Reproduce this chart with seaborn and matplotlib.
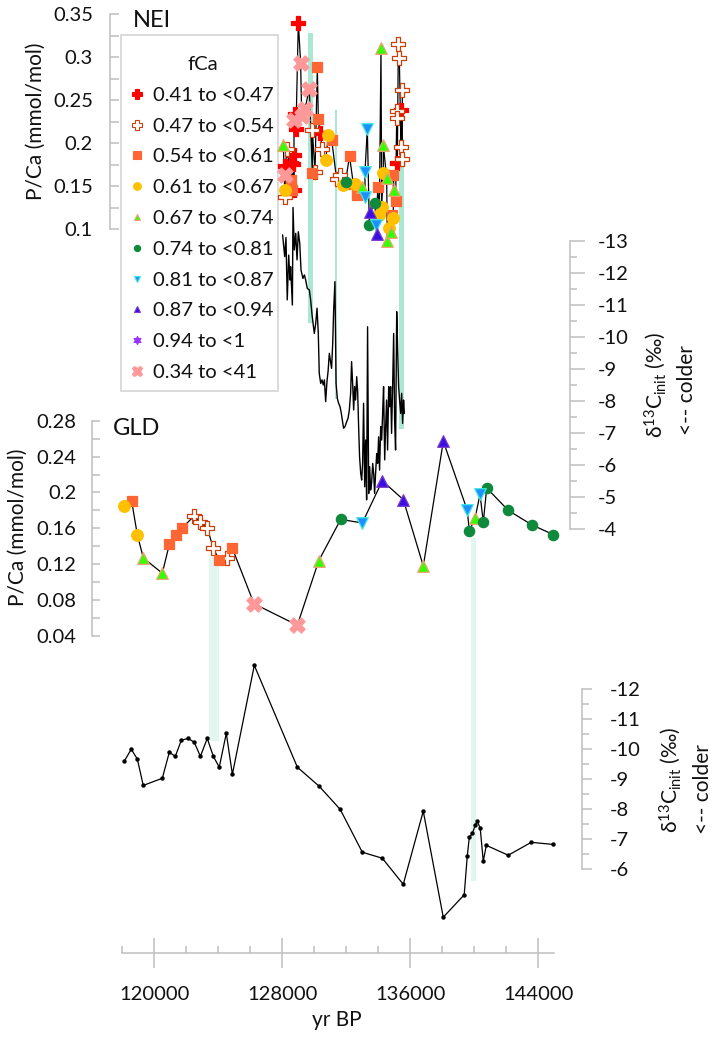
import numpy as np
import pandas as pd
import matplotlib
matplotlib.use("Agg")
import matplotlib.pyplot as plt
import seaborn as sns
from matplotlib.lines import Line2D
from matplotlib.patches import Rectangle
from matplotlib.ticker import FuncFormatter

# fCa classes (legend order)
FCA_LABELS = ["0.41 to <0.47", "0.47 to <0.54", "0.54 to <0.61", "0.61 to <0.67",
              "0.67 to <0.74", "0.74 to <0.81", "0.81 to <0.87", "0.87 to <0.94",
              "0.94 to <1", "0.34 to <41"]

# NEI P/Ca record (age yr BP, P/Ca mmol/mol, fCa class index)
NEI_AGE = [128064, 128168, 128168, 128168, 128168, 128314, 128523, 128523, 128585, 128689,
           128731, 128731, 128731, 128793, 128856, 129002, 129147, 129210, 129418, 129689,
           129877, 129877, 130043, 130189, 130252, 130356, 130502, 130710, 130877, 131085,
           131397, 131606, 131772, 131950, 132200, 132439, 132543, 132647, 132960, 133168,
           133168, 133314, 133439, 133481, 133793, 133856, 133898, 133960, 134064, 134168,
           134210, 134314, 134314, 134523, 134564, 134668, 134773, 134835, 134939, 134939,
           134981, 135085, 135147, 135147, 135189, 135251, 135314, 135418, 135418, 135501,
           135501]
NEI_PCA = [0.198, 0.173, 0.163, 0.146, 0.137, 0.193, 0.177, 0.157, 0.146, 0.176,
           0.186, 0.227, 0.146, 0.234, 0.217, 0.340, 0.293, 0.231, 0.240, 0.263,
           0.215, 0.165, 0.166, 0.288, 0.228, 0.212, 0.193, 0.180, 0.209, 0.204,
           0.158, 0.163, 0.151, 0.155, 0.185, 0.153, 0.153, 0.140, 0.149, 0.167,
           0.138, 0.217, 0.105, 0.120, 0.130, 0.105, 0.095, 0.149, 0.117, 0.311,
           0.126, 0.198, 0.165, 0.159, 0.086, 0.101, 0.097, 0.117, 0.163, 0.113,
           0.146, 0.133, 0.237, 0.229, 0.177, 0.315, 0.299, 0.239, 0.195, 0.262,
           0.182]
NEI_FCA = [4, 0, 9, 3, 1, 1, 0, 2, 2, 0,
           0, 9, 0, 0, 0, 0, 9, 9, 9, 9,
           1, 2, 1, 2, 2, 0, 1, 3, 3, 2,
           1, 1, 3, 5, 2, 2, 3, 2, 4, 6,
           6, 6, 5, 7, 5, 6, 7, 2, 3, 4,
           3, 4, 3, 4, 4, 3, 4, 2, 2, 3,
           4, 2, 1, 1, 0, 1, 1, 0, 1, 1,
           1]

# NEI d13C_init record
NEI_D13C_AGE = [128020, 128150, 128230, 128310, 128400, 128480, 128520, 128630, 128670, 128750,
                128840, 128920, 129000, 129090, 129170, 129290, 129380, 129460, 129560, 129690,
                129770, 129860, 130000, 130090, 130170, 130250, 130310, 130400, 130480, 130560,
                130630, 130710, 130790, 130860, 130940, 131000, 131080, 131150, 131210, 131290,
                131360, 131440, 131520, 131610, 131690, 131750, 131830, 131920, 132020, 132110,
                132190, 132270, 132330, 132400, 132460, 132520, 132580, 132650, 132710, 132770,
                132830, 132900, 132960, 133020, 133080, 133150, 133210, 133270, 133330, 133400,
                133460, 133520, 133580, 133650, 133710, 133770, 133830, 133900, 133960, 134020,
                134080, 134150, 134210, 134270, 134330, 134400, 134460, 134520, 134580, 134650,
                134710, 134770, 134830, 134900, 134960, 135020, 135080, 135150, 135210, 135270,
                135330, 135400, 135460, 135520, 135580, 135630]
NEI_D13C = [-13.19, -12.51, -13.11, -11.16, -12.56, -11.78, -12.20, -11.00, -14.05, -12.72,
            -13.24, -12.41, -13.29, -12.93, -12.09, -11.83, -11.94, -11.78, -11.52, -11.47,
            -11.16, -10.69, -10.11, -10.43, -10.90, -10.11, -8.86, -8.55, -8.66, -8.50,
            -8.66, -7.98, -8.60, -8.92, -9.49, -9.28, -9.02, -9.80, -10.84, -11.73,
            -8.55, -8.08, -7.93, -7.82, -7.61, -7.41, -7.15, -7.20, -7.35, -7.46,
            -7.72, -8.24, -9.23, -8.50, -7.72, -8.45, -8.03, -8.76, -8.29, -7.20,
            -6.26, -5.74, -5.53, -6.05, -7.93, -5.32, -6.78, -4.91, -10.32, -5.11,
            -5.95, -5.22, -5.43, -6.05, -5.74, -5.11, -5.74, -6.36, -6.05, -6.88,
            -5.84, -7.20, -6.78, -7.61, -8.45, -6.16, -7.20, -8.03, -6.47, -8.45,
            -7.82, -8.45, -6.99, -8.55, -10.11, -7.41, -6.47, -10.79, -9.59, -8.45,
            -8.03, -7.61, -8.24, -7.30, -8.03, -7.61]

# GLD P/Ca record
GLD_AGE = [118106, 118588, 118938, 119313, 120500, 120938, 121338, 121713, 122500, 122856,
           123313, 123688, 124044, 124525, 124875, 126231, 128938, 130280, 131650, 133000,
           134250, 135563, 136813, 138063, 139563, 139688, 140044, 140356, 140563, 140775,
           142125, 143588, 144938]
GLD_PCA = [0.185, 0.190, 0.153, 0.127, 0.110, 0.142, 0.153, 0.160, 0.174, 0.167,
           0.160, 0.138, 0.125, 0.127, 0.138, 0.076, 0.052, 0.124, 0.170, 0.166,
           0.213, 0.192, 0.118, 0.257, 0.180, 0.157, 0.171, 0.198, 0.167, 0.205,
           0.180, 0.164, 0.153]
GLD_FCA = [3, 2, 3, 4, 4, 2, 2, 2, 1, 1,
           1, 1, 2, 1, 2, 9, 9, 4, 5, 6,
           7, 7, 4, 7, 6, 5, 4, 6, 5, 5,
           5, 5, 5]

# GLD d13C_init record
GLD_D13C_AGE = [118125, 118560, 118940, 119310, 120500, 120940, 121310, 121690, 122120, 122500,
                122880, 123310, 123690, 124060, 124500, 124880, 126250, 128940, 130310, 131620,
                133000, 134250, 135560, 136810, 138060, 139370, 139560, 139690, 139880, 140060,
                140190, 140370, 140560, 140750, 142120, 143560, 144940]
GLD_D13C = [-9.60, -10.00, -9.67, -8.79, -9.03, -9.90, -9.76, -10.30, -10.36, -10.23,
            -9.76, -10.36, -9.76, -9.40, -10.53, -9.16, -12.80, -9.40, -8.76, -7.99,
            -6.56, -6.36, -5.49, -7.93, -4.39, -5.14, -6.43, -7.06, -7.19, -7.46,
            -7.59, -7.36, -6.26, -6.79, -6.46, -6.89, -6.82]

# highlighted intervals (age from/to, extent in d13C units of the panel axis)
NEI_BAND_FROM = [129600, 131290, 135290]
NEI_BAND_TO = [129910, 131410, 135600]
NEI_BAND_TOP = [-19.5, -17.1, -16.2]
NEI_BAND_BOTTOM = [-10.44, -8.06, -7.13]
GLD_BAND_FROM = [123440, 139790]
GLD_BAND_TO = [124040, 140100]
GLD_BAND_TOP = [-16.42, -17.05]
GLD_BAND_BOTTOM = [-10.27, -5.60]

# marker style per fCa class
STYLES = [
    dict(marker="P", fc="#ff0000", ec="#ff0000", s=95, ms=7.5),
    dict(marker="P", fc="white", ec="#c8400a", s=95, ms=7.5),
    dict(marker="s", fc="#ff6633", ec="#ff6633", s=62, ms=5.5),
    dict(marker="o", fc="#ffc000", ec="#ffc000", s=70, ms=5.5),
    dict(marker="^", fc="#33ff00", ec="#f4a070", s=70, ms=5),
    dict(marker="o", fc="#0f8a3c", ec="#0f8a3c", s=55, ms=4.5),
    dict(marker="v", fc="#1e8fff", ec="#40e8e0", s=70, ms=5),
    dict(marker="^", fc="#3a10e0", ec="#7a3ad0", s=70, ms=5),
    dict(marker=(6, 1, 0), fc="#9933ff", ec="#9933ff", s=70, ms=6),
    dict(marker="X", fc="#ff9999", ec="#ff9999", s=120, ms=7.5),
]

W, H = 718, 1046
GRAY = "#bfbfbf"
TXT = "#111111"
TICK_FS = 14.5
LABEL_FS = 15

sns.set_style("white")
plt.rcParams["font.family"] = ["Lato", "DejaVu Sans"]
plt.rcParams["mathtext.fontset"] = "custom"
plt.rcParams["mathtext.rm"] = "Lato"
plt.rcParams["mathtext.it"] = "Lato:italic"

fig = plt.figure(figsize=(W / 100, H / 100), dpi=100)


def px_to_year(px):
    # 120000 yr BP sits at x=154.3 px, 16 px per 1000 yr
    return 120000 + (px - 154.3) * 62.5


def px_axes(left, top, right, bottom):
    ax = fig.add_axes([left / W, 1 - bottom / H, (right - left) / W, (bottom - top) / H])
    ax.set_facecolor("none")
    ax.set_xlim(px_to_year(left), px_to_year(right))
    for sp in ax.spines.values():
        sp.set_visible(False)
    ax.tick_params(bottom=False, labelbottom=False, left=False, labelleft=False)
    ax.grid(False)
    return ax


def fit_ylim(ax, v_a, p_a, v_b, p_b, top, bottom):
    f = lambda p: v_a + (p - p_a) * (v_b - v_a) / (p_b - p_a)
    ax.set_ylim(f(bottom), f(top))


def style_y(ax, side, lo, hi, major, minor, direction, length, minor_length, pad):
    sp = ax.spines[side]
    sp.set_visible(True)
    sp.set_color(GRAY)
    sp.set_linewidth(1.1)
    sp.set_bounds(lo, hi)
    ax.yaxis.set_ticks_position(side)
    ax.set_yticks(np.arange(lo, hi + 1e-9, major))
    ax.set_yticks(np.arange(lo, hi + 1e-9, minor), minor=True)
    ax.yaxis.set_major_formatter(FuncFormatter(lambda v, _: f"{v:g}"))
    on = dict(left=(side == "left"), labelleft=(side == "left"),
              right=(side == "right"), labelright=(side == "right"))
    ax.tick_params(axis="y", which="major", direction=direction, length=length, width=1.1,
                   color=GRAY, labelsize=TICK_FS, labelcolor=TXT, pad=pad, **on)
    ax.tick_params(axis="y", which="minor", direction=direction, length=minor_length,
                   width=1.1, color=GRAY, **on)
    ax.set_ylabel("")
    ax.set_xlabel("")


def draw_pca(ax, ages, pca, fca):
    df = pd.DataFrame({"age": ages, "pca": pca, "fca": fca})
    sns.lineplot(data=df, x="age", y="pca", ax=ax, estimator=None, sort=True,
                 color="black", lw=0.9, zorder=2)
    for k, st in enumerate(STYLES):
        sub = df[df["fca"] == k]
        if len(sub):
            sns.scatterplot(data=sub, x="age", y="pca", ax=ax, marker=st["marker"],
                            color=st["fc"], edgecolor=st["ec"], linewidth=0.9,
                            s=st["s"], zorder=3)


def draw_bands(ax, x0s, x1s, tops, bottoms, color):
    for x0, x1, t, b in zip(x0s, x1s, tops, bottoms):
        ax.fill_between([x0, x1], [t, t], [b, b], color=color, lw=0, zorder=0, clip_on=False)


# ---- NEI d13C (right axis) ----
ax_nd = px_axes(110, 20, 570, 540)
fit_ylim(ax_nd, -13, 241, -4, 529, 20, 540)
draw_bands(ax_nd, NEI_BAND_FROM, NEI_BAND_TO, NEI_BAND_TOP, NEI_BAND_BOTTOM, "#aae8d4")
nd = pd.DataFrame({"age": NEI_D13C_AGE, "d13c": NEI_D13C})
sns.lineplot(data=nd, x="age", y="d13c", ax=ax_nd, estimator=None, sort=False,
             color="black", lw=1.0, zorder=2)
style_y(ax_nd, "right", -13, -4, 1, 0.5, "out", 10.8, 5, 9.5)

# ---- NEI P/Ca (left axis) ----
ax_np = px_axes(110, 5, 570, 260)
fit_ylim(ax_np, 0.35, 14, 0.10, 229.3, 5, 260)
draw_pca(ax_np, NEI_AGE, NEI_PCA, NEI_FCA)
style_y(ax_np, "left", 0.10, 0.35, 0.05, 0.025, "in", 6.3, 6.3, 12.3)

# ---- GLD d13C (right axis) ----
ax_gd = px_axes(92.3, 530, 581.7, 940)
fit_ylim(ax_gd, -12, 689.3, -6, 869, 530, 940)
draw_bands(ax_gd, GLD_BAND_FROM, GLD_BAND_TO, GLD_BAND_TOP, GLD_BAND_BOTTOM, "#e0f6ef")
gd = pd.DataFrame({"age": GLD_D13C_AGE, "d13c": GLD_D13C})
sns.lineplot(data=gd, x="age", y="d13c", ax=ax_gd, estimator=None, sort=True,
             color="black", lw=0.9, marker="o", markersize=3.2, markeredgewidth=0, zorder=2)
style_y(ax_gd, "right", -12, -6, 1, 0.5, "out", 7.2, 5, 12.8)

# ---- GLD P/Ca (left axis) ----
ax_gp = px_axes(92.3, 400, 581.7, 660)
fit_ylim(ax_gp, 0.28, 420.7, 0.04, 636, 400, 660)
draw_pca(ax_gp, GLD_AGE, GLD_PCA, GLD_FCA)
style_y(ax_gp, "left", 0.04, 0.28, 0.04, 0.02, "in", 6, 6, 11.2)

# ---- shared age axis ----
ax_x = px_axes(122.3, 900, 554.3, 953)
ax_x.set_xlim(118000, 145000)
ax_x.spines["bottom"].set_visible(True)
ax_x.spines["bottom"].set_color(GRAY)
ax_x.spines["bottom"].set_linewidth(1.1)
ax_x.set_xticks(np.arange(120000, 145000, 8000))
ax_x.set_xticks(np.arange(118000, 145000, 2000), minor=True)
ax_x.xaxis.set_major_formatter(FuncFormatter(lambda v, _: f"{v:.0f}"))
ax_x.tick_params(axis="x", which="major", direction="inout", length=21, width=1.1, color=GRAY,
                 bottom=True, labelbottom=True, labelsize=TICK_FS, labelcolor=TXT, pad=13.5)
ax_x.tick_params(axis="x", which="minor", direction="in", length=5, width=1.1, color=GRAY,
                 bottom=True)
ax_x.set_yticks([])

# ---- legend (frame drawn as a separate box) ----
fig.patches.append(Rectangle((121 / W, 1 - 391 / H), 157 / W, 356 / H,
                             transform=fig.transFigure, facecolor="white",
                             edgecolor="#d4d4d4", lw=1.2, zorder=-1))
handles = [Line2D([], [], ls="none", marker=st["marker"], markersize=st["ms"],
                  markerfacecolor=st["fc"], markeredgecolor=st["ec"], markeredgewidth=0.8)
           for st in STYLES]
leg = ax_np.legend(handles, FCA_LABELS, title="fCa", loc="upper left",
                   bbox_to_anchor=(121 / W, 1 - 46 / H),
                   bbox_transform=fig.transFigure, frameon=False,
                   fontsize=14.6, title_fontsize=14.6,
                   handlelength=0.6, handletextpad=0.5, labelspacing=0.67, borderpad=0.5,
                   borderaxespad=0)
for t in leg.get_texts():
    t.set_color(TXT)
leg.get_title().set_color(TXT)


# ---- text ----
def ftext(x, y, s, **kw):
    fig.text(x / W, 1 - y / H, s, color=TXT, **kw)


ftext(133, 27, "NEI", fontsize=17, va="baseline")
ftext(113, 435, "GLD", fontsize=17, va="baseline")
ftext(36, 121, "P/Ca (mmol/mol)", fontsize=LABEL_FS, rotation=90, ha="center", va="center")
ftext(18, 527, "P/Ca (mmol/mol)", fontsize=LABEL_FS, rotation=90, ha="center", va="center")
d13c_label = r"δ$^{13}$C$_{\mathrm{init}}$ (‰)"
ftext(655, 385, d13c_label, fontsize=LABEL_FS, rotation=90, ha="center", va="center")
ftext(687, 390, "<-- colder", fontsize=LABEL_FS, rotation=90, ha="center", va="center")
ftext(670, 780, d13c_label, fontsize=LABEL_FS, rotation=90, ha="center", va="center")
ftext(703, 789, "<-- colder", fontsize=LABEL_FS, rotation=90, ha="center", va="center")
ftext(337, 1020, "yr BP", fontsize=LABEL_FS, ha="center", va="center")

fig.savefig("out.png", dpi=100)
